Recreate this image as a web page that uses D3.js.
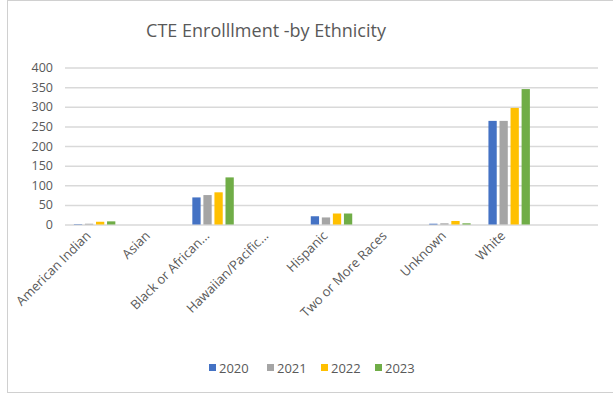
<!DOCTYPE html>
<html>
<head>
<meta charset="utf-8">
<script src="https://cdn.jsdelivr.net/npm/d3@7"></script>
<style>
  html, body { margin: 0; padding: 0; background: #fff; }
  svg { display: block; font-family: "Open Sans", "Lato", sans-serif; }
</style>
</head>
<body>
<svg id="chart" width="613" height="394"></svg>
<script>
// Enrollment counts per ethnicity group and year
const categories = ["American Indian", "Asian", "Black or African...", "Hawaiian/Pacific...",
  "Hispanic", "Two or More Races", "Unknown", "White"];
const years = ["2020", "2021", "2022", "2023"];
const values2020 = [1, 0, 69, 0, 21, 0, 2, 264];
const values2021 = [2, 0, 75, 0, 18, 0, 3, 264];
const values2022 = [7, 0, 82, 0, 28, 0, 9, 297];
const values2023 = [8, 0, 120, 0, 28, 0, 3, 345];
const yTicks = [0, 50, 100, 150, 200, 250, 300, 350, 400];
const colors = ["#4472C4", "#A5A5A5", "#FFC000", "#70AD47"];

const series = [values2020, values2021, values2022, values2023];
const svg = d3.select("#chart");
const textColor = "#595959";

// chart area frame
svg.append("rect")
  .attr("x", 7.5).attr("y", 0.5).attr("width", 640).attr("height", 392)
  .attr("fill", "#fff").attr("stroke", "#d0d0d0").attr("stroke-width", 1);

// title
svg.append("text")
  .attr("x", 266).attr("y", 37)
  .attr("text-anchor", "middle")
  .attr("fill", textColor)
  .attr("font-size", 18)
  .text("CTE Enrolllment -by Ethnicity");

const plotLeft = 65, plotRight = 598;
const bandW = (plotRight - plotLeft) / 9;

const x = d3.scaleBand()
  .domain(categories)
  .range([plotLeft, plotLeft + bandW * categories.length])
  .paddingInner(0.3)
  .paddingOuter(0.15);

const x1 = d3.scaleBand()
  .domain(years)
  .range([0, x.bandwidth()])
  .paddingInner(0.25);

const y = d3.scaleLinear().domain([0, 400]).range([224.5, 67.5]);

// gridlines and value labels
const yAxis = d3.axisLeft(y)
  .tickValues(yTicks)
  .tickSize(-(plotRight - plotLeft))
  .tickPadding(12);

const gy = svg.append("g")
  .attr("transform", `translate(${plotLeft},0)`)
  .call(yAxis);
gy.select(".domain").remove();
gy.selectAll(".tick line").attr("stroke", "#d9d9d9").attr("stroke-width", 1.5);
gy.selectAll(".tick text")
  .attr("fill", textColor)
  .attr("font-size", 12.5)
  .attr("font-family", "Open Sans, Lato, sans-serif");

// bars
const groups = svg.append("g")
  .selectAll("g")
  .data(categories)
  .join("g")
  .attr("transform", d => `translate(${x(d)},0)`);

groups.selectAll("rect")
  .data((d, i) => years.map((yr, j) => ({ yr, v: series[j][i], c: colors[j] })))
  .join("rect")
  .attr("x", d => x1(d.yr))
  .attr("width", x1.bandwidth())
  .attr("y", d => y(d.v))
  .attr("height", d => y(0) - y(d.v))
  .attr("fill", d => d.c);

// category labels, rotated
const xAxis = d3.axisBottom(x).tickSize(0).tickPadding(0);
const gx = svg.append("g")
  .attr("transform", `translate(0,${y(0)})`)
  .call(xAxis);
gx.select(".domain").remove();
gx.selectAll(".tick text")
  .attr("fill", textColor)
  .attr("font-size", 13)
  .attr("font-family", "Open Sans, Lato, sans-serif")
  .attr("text-anchor", "end")
  .attr("dy", 0)
  .attr("transform", "translate(-3,12) rotate(-45)");

// legend
const legendX = [209, 267, 321, 375];
const legend = svg.append("g")
  .selectAll("g")
  .data(years)
  .join("g")
  .attr("transform", (d, i) => `translate(${legendX[i]},368)`);
legend.append("rect")
  .attr("x", 0).attr("y", -4).attr("width", 7).attr("height", 7)
  .attr("fill", (d, i) => colors[i]);
legend.append("text")
  .attr("x", 10).attr("y", 4.5)
  .attr("fill", textColor)
  .attr("font-size", 13)
  .text(d => d);
</script>
</body>
</html>
